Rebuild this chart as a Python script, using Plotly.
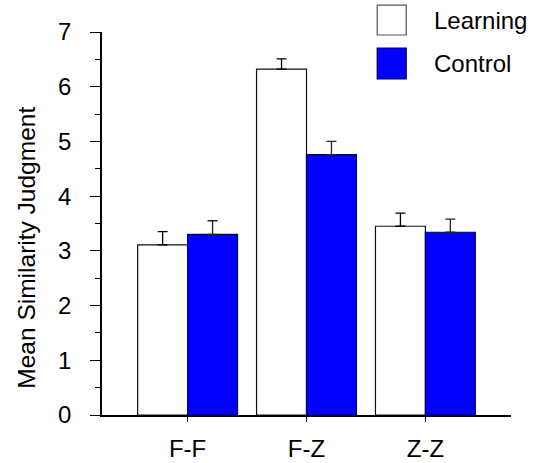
import plotly.graph_objects as go

categories = ["F-F", "F-Z", "Z-Z"]
learning = [3.11, 6.32, 3.45]
learning_err = [0.24, 0.19, 0.24]
control = [3.30, 4.76, 3.34]
control_err = [0.25, 0.24, 0.24]
y_ticks = [0, 1, 2, 3, 4, 5, 6, 7]
series_names = ["Learning", "Control"]
y_title = "Mean Similarity Judgment"

FONT = "Liberation Sans, Arial, Helvetica, sans-serif"

fig = go.Figure()
fig.add_trace(go.Bar(
    x=categories, y=learning, name=series_names[0],
    marker=dict(color="white", line=dict(color="#111111", width=1.2)),
    error_y=dict(type="data", array=learning_err, arrayminus=[0] * 3,
                 symmetric=False, color="black", thickness=1.3, width=5),
    showlegend=False,
))
fig.add_trace(go.Bar(
    x=categories, y=control, name=series_names[1],
    marker=dict(color="#0000FF", line=dict(color="#000060", width=1.2)),
    error_y=dict(type="data", array=control_err, arrayminus=[0] * 3,
                 symmetric=False, color="#222222", thickness=1.3, width=5),
    showlegend=False,
))

W, H = 535, 463
ml, mt = 102, 32
mr = W - 510.7
mb = H - 415.5

fig.update_layout(
    width=W, height=H,
    margin=dict(l=ml, r=mr, t=mt, b=mb, pad=0, autoexpand=False),
    paper_bgcolor="white", plot_bgcolor="white",
    barmode="group", bargap=0.16, bargroupgap=0,
    font=dict(family=FONT, size=24, color="black"),
    xaxis=dict(
        range=[-0.72, 2.72], showline=True, linecolor="black", linewidth=1.5,
        ticks="outside", ticklen=5, tickwidth=1.2, tickcolor="black",
        showgrid=False, zeroline=False, ticklabelstandoff=6,
        tickfont=dict(size=24), automargin=False,
    ),
    yaxis=dict(
        range=[0, 7], tickvals=y_ticks, showline=True, linecolor="black",
        linewidth=1.5, ticks="outside", ticklen=10, tickwidth=1.2,
        tickcolor="black", showgrid=False, zeroline=False,
        ticklabelstandoff=14, tickfont=dict(size=24), automargin=False,
        minor=dict(dtick=0.5, ticks="outside", ticklen=5, tickwidth=1.2,
                   tickcolor="black"),
    ),
)

def px_x(p):
    return (p - ml) / (W - ml - mr)

def px_y(p):
    return 1 - (p - mt) / (H - mt - mb)

fig.add_annotation(xref="paper", yref="paper", x=px_x(27), y=px_y(248),
                   text=y_title, textangle=-90, showarrow=False,
                   xanchor="center", yanchor="middle",
                   font=dict(size=24.5, color="black"))

legend_items = [
    (series_names[0], "white", "#555555", 5, 35),
    (series_names[1], "#0000FF", "#000060", 48, 79),
]
for name, fill, line, y0, y1 in legend_items:
    fig.add_shape(type="rect", xref="paper", yref="paper",
                  x0=px_x(377), x1=px_x(406), y0=px_y(y1), y1=px_y(y0),
                  fillcolor=fill, line=dict(color=line, width=1.2))
    fig.add_annotation(xref="paper", yref="paper", x=px_x(432),
                       y=px_y((y0 + y1) / 2), text=name, showarrow=False,
                       xanchor="left", yanchor="middle",
                       font=dict(size=24, color="black"))

# the default page adds an 8px body margin; remove it so the figure fills the window
fig.write_html("out.html", config={"displayModeBar": False},
               post_script="document.body.style.margin='0';")
